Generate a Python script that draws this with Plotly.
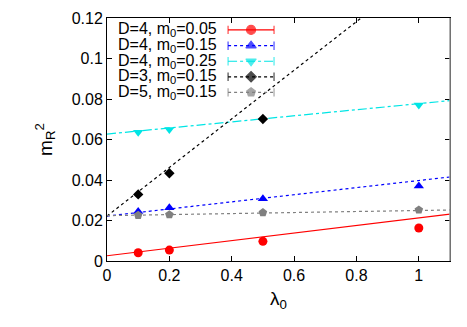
import plotly.graph_objects as go

# measured points (lambda_0, m_R^2)
lam = [0.1, 0.2, 0.5, 1.0]
d4_m005 = [0.0041, 0.0054, 0.0097, 0.0163]
d4_m015 = [0.0244, 0.0263, 0.0308, 0.0370]
lam_cyan = [0.1, 0.2, 1.0]
d4_m025 = [0.0636, 0.0650, 0.0770]
lam_d3 = [0.1, 0.2, 0.5]
d3_m015 = [0.0329, 0.0433, 0.0701]
d5_m015 = [0.0226, 0.0229, 0.0239, 0.0252]

# fit lines, read at lambda_0 = 0 and 1.1
fit_x = [0.0, 1.1]
fit_d4_m005 = [0.0026, 0.0231]
fit_d4_m015 = [0.0222, 0.0415]
fit_d4_m025 = [0.0627, 0.0792]
fit_d3_m015 = [0.0222, 0.1542]
fit_d5_m015 = [0.0224, 0.0252]

labels = ["D=4, m<sub>0</sub>=0.05", "D=4, m<sub>0</sub>=0.15", "D=4, m<sub>0</sub>=0.25",
          "D=3, m<sub>0</sub>=0.15", "D=5, m<sub>0</sub>=0.15"]

series = [
    (lam, d4_m005, fit_d4_m005, "#ff0000", "solid", "circle", 9),
    (lam, d4_m015, fit_d4_m015, "#0000ff", "dot", "triangle-up", 9),
    (lam_cyan, d4_m025, fit_d4_m025, "#00e5e5", "dashdot", "triangle-down", 9),
    (lam_d3, d3_m015, fit_d3_m015, "#000000", "dot", "diamond", 8),
    (lam, d5_m015, fit_d5_m015, "#808080", "dot", "pentagon", 9),
]

fig = go.Figure()
for xs, ys, fit, color, dash, sym, size in series:
    fig.add_trace(go.Scatter(x=fit_x, y=fit, mode="lines",
                             line=dict(color=color, dash=dash, width=1.2),
                             showlegend=False, hoverinfo="skip"))
for xs, ys, fit, color, dash, sym, size in series:
    fig.add_trace(go.Scatter(x=xs, y=ys, mode="markers",
                             marker=dict(color=color, symbol=sym, size=size),
                             showlegend=False))

# hand-made gnuplot style key (text left, sample right)
row_y = [0.951, 0.886, 0.822, 0.758, 0.694]
for (xs, ys, fit, color, dash, sym, size), label, ry in zip(series, labels, row_y):
    fig.add_trace(go.Scatter(
        x=[0.353, 0.420, 0.487], y=[ry, ry, ry], xaxis="x2", yaxis="y2",
        mode="lines+markers", line=dict(color=color, dash=dash, width=1.2),
        marker=dict(color=color, symbol=["line-ns", sym, "line-ns"],
                    size=[6, size, 6], line=dict(color=color, width=1.2)),
        showlegend=False, hoverinfo="skip"))
    fig.add_annotation(x=0.327, y=ry, xref="x2", yref="y2", text=label,
                       showarrow=False, xanchor="right", yanchor="middle",
                       font=dict(size=16, color="black"))

# right border appears gray in the original
fig.add_shape(type="line", xref="paper", yref="paper", x0=1, x1=1, y0=0, y1=1,
              line=dict(color="#999999", width=1.5))

axis_common = dict(showline=True, linecolor="black", linewidth=1, mirror="allticks",
                   ticks="inside", ticklen=5, tickcolor="black", showgrid=False,
                   zeroline=False, automargin=False,
                   tickfont=dict(size=16, color="black"))

# page body adds 8px, so margins are trimmed to land the frame where the original has it
fig.update_layout(
    width=467, height=327,
    margin=dict(l=99, r=25, t=10, b=74),
    paper_bgcolor="white", plot_bgcolor="white",
    font=dict(family="Liberation Sans, Arial, sans-serif", size=16, color="black"),
    xaxis=dict(range=[0, 1.1], tickvals=[0, 0.2, 0.4, 0.6, 0.8, 1],
               ticktext=["0", "0.2", "0.4", "0.6", "0.8", "1"],
               title=dict(text="λ<sub>0</sub>", standoff=8), **axis_common),
    yaxis=dict(range=[0, 0.12], tickvals=[0, 0.02, 0.04, 0.06, 0.08, 0.1, 0.12],
               ticktext=["0", "0.02", "0.04", "0.06", "0.08", "0.1", "0.12"],
               title=dict(text="m<sub>R</sub><sup>2</sup>", standoff=14), **axis_common),
    xaxis2=dict(overlaying="x", range=[0, 1], visible=False),
    yaxis2=dict(overlaying="y", range=[0, 1], visible=False),
)

fig.write_html("out.html")
